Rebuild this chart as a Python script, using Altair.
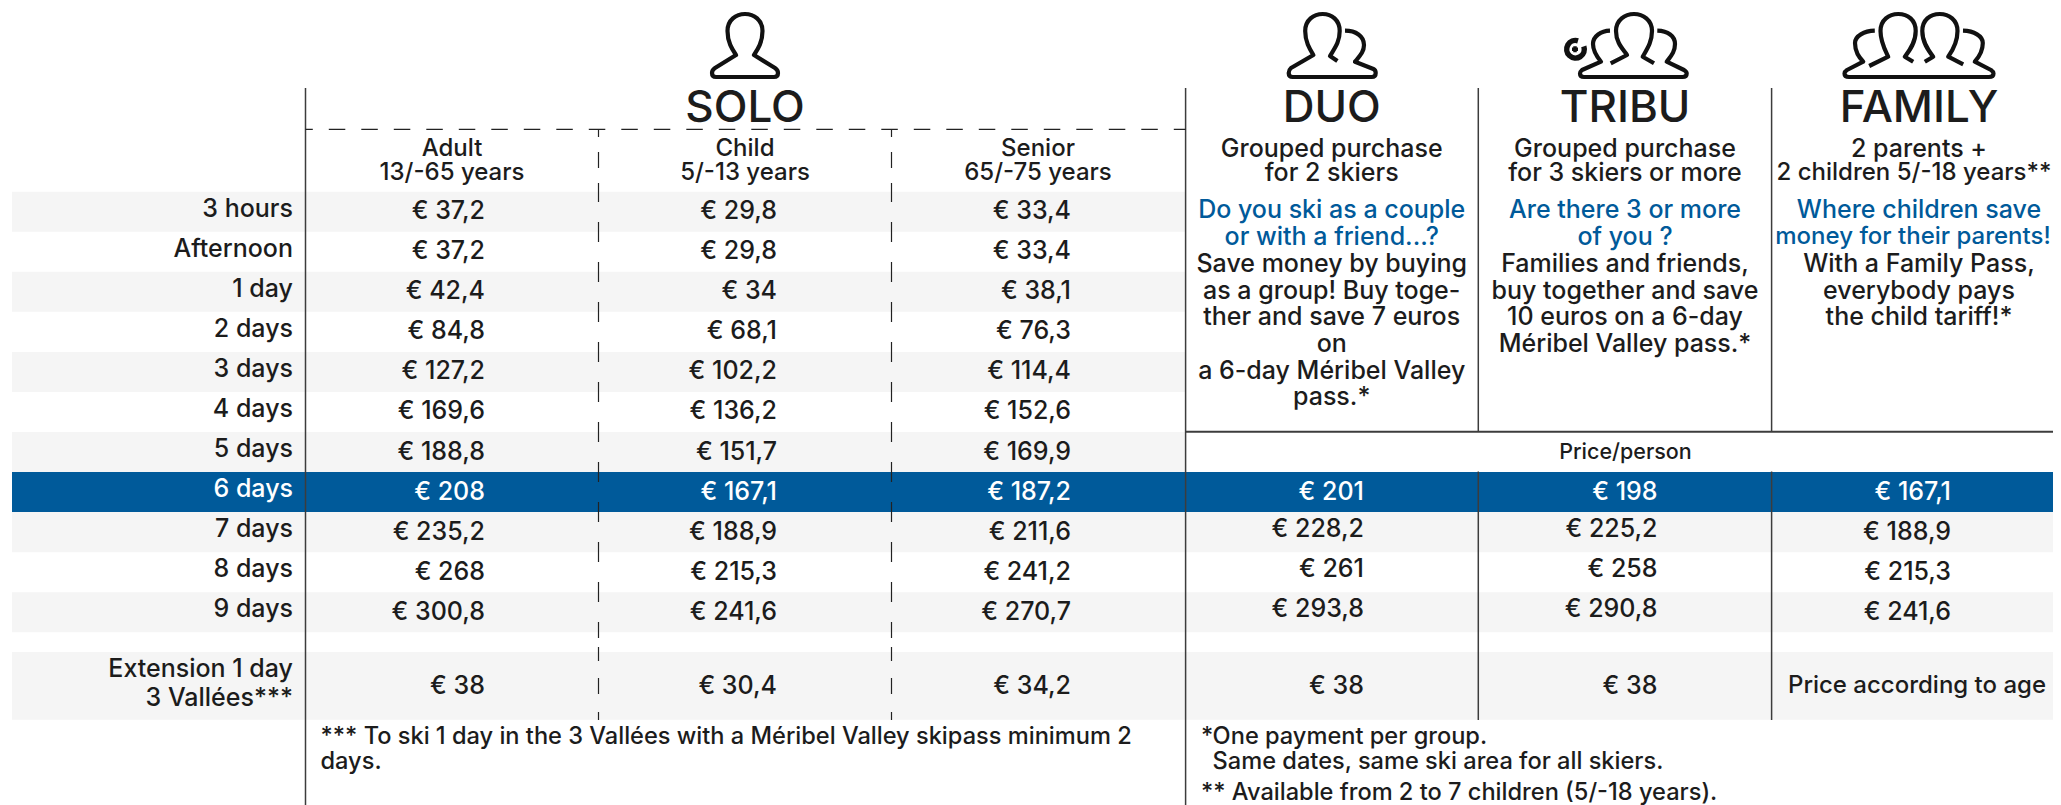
import altair as alt
import pandas as pd

# ---- table content -------------------------------------------------------
row_labels = ["3 hours", "Afternoon", "1 day", "2 days", "3 days", "4 days", "5 days",
              "6 days", "7 days", "8 days", "9 days"]
ext_label = ["Extension 1 day", "3 Vallées***"]
adult = ["€ 37,2", "€ 37,2", "€ 42,4", "€ 84,8", "€ 127,2", "€ 169,6", "€ 188,8", "€ 208", "€ 235,2", "€ 268", "€ 300,8", "€ 38"]
child = ["€ 29,8", "€ 29,8", "€ 34", "€ 68,1", "€ 102,2", "€ 136,2", "€ 151,7", "€ 167,1", "€ 188,9", "€ 215,3", "€ 241,6", "€ 30,4"]
senior = ["€ 33,4", "€ 33,4", "€ 38,1", "€ 76,3", "€ 114,4", "€ 152,6", "€ 169,9", "€ 187,2", "€ 211,6", "€ 241,2", "€ 270,7", "€ 34,2"]
duo = ["€ 201", "€ 228,2", "€ 261", "€ 293,8", "€ 38"]
tribu = ["€ 198", "€ 225,2", "€ 258", "€ 290,8", "€ 38"]
family = ["€ 167,1", "€ 188,9", "€ 215,3", "€ 241,6"]
family_ext = "Price according to age"
titles = ["SOLO", "DUO", "TRIBU", "FAMILY"]
solo_heads = [["Adult", "13/-65 years"], ["Child", "5/-13 years"], ["Senior", "65/-75 years"]]
group_heads = [["Grouped purchase", "for 2 skiers"], ["Grouped purchase", "for 3 skiers or more"],
               ["2 parents +", "2 children 5/-18 years**"]]
blue_lines = [["Do you ski as a couple", "or with a friend...?"], ["Are there 3 or more", "of you ?"],
              ["Where children save", "money for their parents!"]]
body_lines = [["Save money by buying", "as a group! Buy toge-", "ther and save 7 euros", "on", "a 6-day Méribel Valley", "pass.*"],
              ["Families and friends,", "buy together and save", "10 euros on a 6-day", "Méribel Valley pass.*"],
              ["With a Family Pass,", "everybody pays", "the child tariff!*"]]
price_head = "Price/person"
note_left = ["*** To ski 1 day in the 3 Vallées with a Méribel Valley skipass minimum 2", "days."]
note_right = ["*", "One payment per group.", "Same dates, same ski area for all skiers.", "** Available from 2 to 7 children (5/-18 years)."]

# ---- layout (pixels of the picture) ---------------------------------------
W, H = 2045, 797
FONT = "Inter"
INK, BLUE, GREY, LINE = "#1c1c1c", "#005a9a", "#f5f5f5", "#3c3c3c"
row_top, row_h = 191.7, 40.05
ext_top, ext_bot = 652.0, 719.7
left, v0, v1, v2, v3, v4, v5, right = 12, 305.5, 598.5, 891.5, 1185.6, 1478.3, 1771.6, 2061
solo_cx = [452, 745, 1038]
group_cx = [1331.7, 1625, 1919]
value_right = [485, 777, 1071, 1364, 1657.5, 1951]
label_right = 293

xs = alt.Scale(domain=[0, 2061], range=[-8, 2053])
ys = alt.Scale(domain=[0, 805], range=[-8, 797])
X = alt.X("x:Q", scale=xs, axis=None)
Y = alt.Y("y:Q", scale=ys, axis=None)


def center(i):
    return row_top + row_h * (i + 0.5)


# ---- bands ----------------------------------------------------------------
bands = []
for i in range(len(row_labels)):
    t, b = row_top + row_h * i, row_top + row_h * (i + 1)
    if i == 7:
        bands.append(dict(x=left, x2=right, y=t, y2=b, c=BLUE))
    elif i % 2 == 0:
        bands.append(dict(x=left, x2=right if i > 7 else v3, y=t, y2=b, c=GREY))
bands.append(dict(x=left, x2=right, y=ext_top, y2=ext_bot, c=GREY))
band_layer = alt.Chart(pd.DataFrame(bands)).mark_rect(strokeWidth=0).encode(
    x=X, x2="x2:Q", y=Y, y2="y2:Q", color=alt.Color("c:N", scale=None))

# ---- rules ----------------------------------------------------------------
solid = [dict(x=v0, x2=v0, y=88, y2=805, w=1.5), dict(x=v3, x2=v3, y=88, y2=805, w=1.5),
         dict(x=v4, x2=v4, y=88, y2=431, w=1.5), dict(x=v5, x2=v5, y=88, y2=431, w=1.5),
         dict(x=v4, x2=v4, y=471.5, y2=720, w=1.5), dict(x=v5, x2=v5, y=471.5, y2=720, w=1.5),
         dict(x=v3, x2=right, y=431.7, y2=431.7, w=2)]
solid_layer = alt.Chart(pd.DataFrame(solid)).mark_rule(color=LINE).encode(
    x=X, x2="x2:Q", y=Y, y2="y2:Q", strokeWidth=alt.StrokeWidth("w:Q", scale=None))

gaps = [(130, 137), (152, 168), (183, 202)] + [(222 + 40 * k, 242 + 40 * k) for k in range(10)] + \
       [(622, 638), (647, 661), (678, 694), (712, 720)]
dash_rows = [dict(x=vx, y=a, y2=b) for vx in (v1, v2) for a, b in gaps]
dash_v = alt.Chart(pd.DataFrame(dash_rows)).mark_rule(color="#222222", strokeWidth=1.2).encode(x=X, y=Y, y2="y2:Q")
dash_h = alt.Chart(pd.DataFrame([dict(x=v0, x2=v3, y=129.3)])).mark_rule(
    color="#222222", strokeWidth=1.2, strokeDash=[16.5, 16], strokeDashOffset=9.2).encode(x=X, x2="x2:Q", y=Y)

# ---- text -----------------------------------------------------------------
cells = []  # x, y, text, align, size, colour
BASE = 25


def put(x, y, t, align="center", size=BASE, c=INK):
    cells.append(dict(x=x, y=y, t=t, align=align, size=size, c=c))


for i, lab in enumerate(row_labels):
    put(label_right, center(i) - 3, lab, "right", c="white" if i == 7 else INK)
for k, line in enumerate(ext_label):
    put(label_right, 669 + k * 28.7, line, "right")
for col, vals in enumerate([adult, child, senior]):
    for i, v in enumerate(vals[:-1]):
        put(value_right[col], center(i) - 0.5, v, "right", c="white" if i == 7 else INK)
    put(value_right[col], 685.5, vals[-1], "right")
for col, vals in enumerate([duo, tribu]):
    for j, v in enumerate(vals[:-1]):
        put(value_right[3 + col], center(7 + j) + (-0.5 if j == 0 else -3), v, "right", c="white" if j == 0 else INK)
    put(value_right[3 + col], 685.5, vals[-1], "right")
for j, v in enumerate(family):
    put(value_right[5], center(7 + j) - 0.5, v, "right", c="white" if j == 0 else INK)
put(1917, 686, family_ext, size=24)
for cx, t in zip([745] + group_cx, titles):
    put(cx, 109, t, size=44)
for cx, lines in zip(solo_cx, solo_heads):
    for k, t in enumerate(lines):
        put(cx, 149 + k * 24, t, size=24)
for cx, lines in zip(group_cx, group_heads):
    for k, t in enumerate(lines):
        # the longest cell of the last column stays inside the picture
        small = len(t) > 20 and cx == group_cx[2]
        put(cx - 5 if small else cx, 149 + k * 24, t, size=24 if small else BASE)
for cx, lines in zip(group_cx, blue_lines):
    for k, t in enumerate(lines):
        small = len(t) > 20 and cx == group_cx[2]
        put(cx - 6 if small else cx, 210 + k * 27, t, size=24 if small else BASE, c=BLUE)
for cx, lines in zip(group_cx, body_lines):
    for k, t in enumerate(lines):
        put(cx, 264 + k * 26.67, t)
put(1625.5, 453, price_head, size=21.5)
for k, t in enumerate(note_left):
    put(320.5, 737.3 + k * 24.4, t, "left", size=23.6)
put(1201, 737.3, note_right[0], "left", size=23.6)
put(1212.6, 737.3, note_right[1], "left", size=23.6)
put(1212.6, 761.7, note_right[2], "left", size=23.6)
put(1201, 793, note_right[3], "left", size=23.6)

text_df = pd.DataFrame(cells)
text_layers = []
for align, sub in text_df.groupby("align"):
    text_layers.append(
        alt.Chart(sub).mark_text(align=align, baseline="middle", font=FONT, fontWeight=500).encode(
            x=X, y=Y, text="t:N", size=alt.Size("size:Q", scale=None),
            color=alt.Color("c:N", scale=None)))

# ---- icons: outline paths, one unit = one pixel at size 4 -------------------
solo_path = ("M0 14 C9 14 17.5 20 17.5 31 C17.5 42 13 49 9 55 L30 68 Q33 70 33 73 Q33 77 29 77 L-29 77 "
             "Q-33 77 -33 73 Q-33 70 -30 68 L-9 55 C-13 49 -17.5 42 -17.5 31 C-17.5 20 -9 14 0 14 Z")
duo_path = ("M14.7 61 L7.3 56 C12 48 17 42 17 31 C17 20 9 14 0 14 C-9 14 -17.5 20 -17.5 31 C-17.5 42 -13 49 -9.3 55 "
            "L-31.7 68 Q-34 70 -34 73 Q-34 77 -30 77 L49 77 Q53 77 53 73 Q53 70 50.7 69 L32.3 61.7 "
            "C37 56 41.3 52 41.3 45 C41.3 36 33 30.7 22.3 30.7")
tribu_path = ("M-23.3 63.3 L-7 55 C-12 48 -18 42 -18 31 C-18 20 -9 14 0 14 C9 14 18 20 18 31 C18 42 13 49 8.7 56.7 L20 63.3 "
              "M-24 30.7 C-33 31 -41 36 -41 44 C-41 52 -36 58 -33 61.7 L-52 70 Q-54 71.7 -54 73.5 Q-54 77 -50 77 "
              "L48.5 77 Q52.7 77 52.7 73.5 Q52.7 71.7 50 70 L32.7 61.7 C37 56 41 52 41 44 C41 36 34 31 23.3 30.7")
family_path = ("M-49.8 66 L-30.8 56.7 C-34 50 -38.5 42 -38.5 31 C-38.5 20 -30 14 -20.8 14 C-11 14 -3.3 20 -3.3 31 C-3.3 42 -9 50 -14.2 56.7 L-5.8 61.7 "
               "M5.8 61.7 L14.2 56.7 C9 50 3.3 42 3.3 31 C3.3 20 11 14 20.8 14 C30 14 38.5 20 38.5 31 C38.5 42 34 50 29.2 56.7 L44.2 64.3 "
               "M-44.2 30.7 C-55 31 -64 36 -64 43 C-64 52 -60 57 -55.8 61.7 L-72 70 Q-74.5 71.7 -74.5 73.5 Q-74.5 77 -70 77 "
               "L70 77 Q74.5 77 74.5 73.5 Q74.5 71.7 72 70 L55.8 61.7 C60 57 63.8 52 63.8 43 C63.8 36 55 31 44 30.7")
ring_path = "M3 -8.5 A8.8 8.8 0 1 0 8.8 -3"
plus_path = "M-3 0 L3 0 M0 -3 L0 3"


def icon(path, x, y, width):
    return alt.Chart(pd.DataFrame([dict(x=x, y=y)])).mark_point(
        shape=path, size=4, filled=False, color="#111111", opacity=1, strokeWidth=width,
        strokeCap="butt", strokeJoin="round").encode(x=X, y=Y)


icons = [icon(solo_path, 745, 0, 4.2), icon(duo_path, 1322.7, 0, 4.2), icon(tribu_path, 1634, 0, 4.2),
         icon(family_path, 1919, 0, 4.2), icon(ring_path, 1575, 49.3, 5.5), icon(plus_path, 1575, 49.3, 3.5)]

chart = alt.layer(band_layer, solid_layer, dash_v, dash_h, *text_layers, *icons).properties(
    width=W, height=H, padding=0, autosize=alt.AutoSizeParams(type="none")
).configure_view(stroke=None)

chart.save("out.html", embed_options={"renderer": "svg", "actions": False})
